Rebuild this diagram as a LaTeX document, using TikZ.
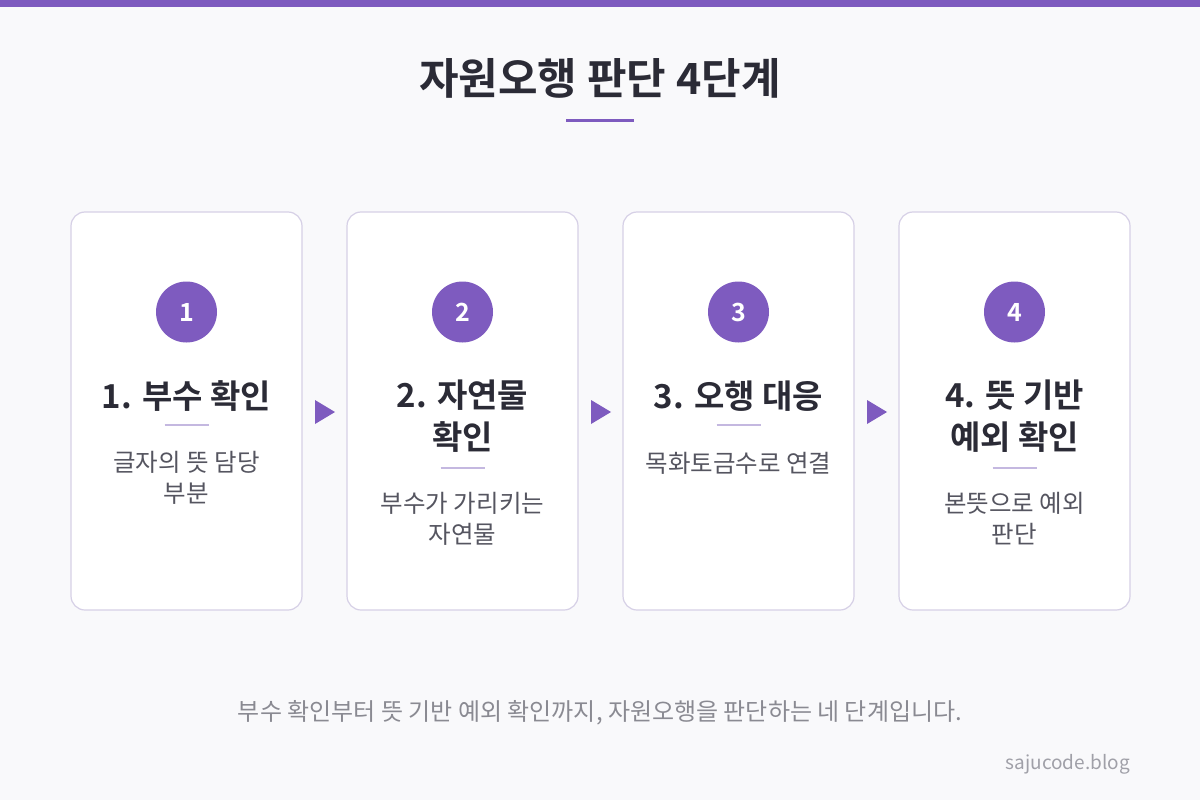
\documentclass[tikz,border=0pt]{standalone}
\usepackage{fontspec}
\setmainfont{Noto Sans CJK KR}[BoldFont={Noto Sans CJK KR Bold}]
\definecolor{bg}{HTML}{F9F9FB}
\definecolor{purp}{HTML}{7E5BBF}
\definecolor{cardline}{HTML}{D6D0E6}
\definecolor{divline}{HTML}{C4B8E0}
\definecolor{titletxt}{HTML}{2B2B36}
\definecolor{desctxt}{HTML}{555560}
\definecolor{foottxt}{HTML}{8A8A92}
\definecolor{marktxt}{HTML}{A0A0A8}
\tikzset{
  card/.style={draw=cardline,line width=1.2pt,fill=white,rounded corners=14pt},
  numcirc/.style={circle,fill=purp,minimum size=61pt,inner sep=0pt,text=white,font=\fontsize{25}{28}\selectfont\bfseries},
  ctitle/.style={align=center,text=titletxt,font=\fontsize{33}{42}\selectfont\bfseries,inner sep=0pt},
  cdesc/.style={align=center,text=desctxt,font=\fontsize{24.5}{31}\selectfont,inner sep=0pt},
  divider/.style={draw=divline,line width=1.5pt},
  arrowtri/.style={fill=purp,draw=none},
}
\begin{document}
\begin{tikzpicture}[x=1pt,y=-1pt]
\useasboundingbox (0,0) rectangle (1200,800);
\fill[bg] (0,0) rectangle (1200,800);
\fill[purp] (0,0) rectangle (1200,7.5);
\node[text=titletxt,font=\fontsize{43}{48}\selectfont\bfseries,inner sep=0pt] (title) at (600,78) {자원오행 판단 4단계};
\draw[purp,line width=3pt] (566,120) -- (634,120);
% cards
\foreach \i/\x in {1/71,2/347,3/623,4/899}{
  \draw[card] (\x,212) rectangle ++(231,398);
  \node[numcirc] (c\i) at (\x+115.5,312) {\i};
}
\node[ctitle] (t1) at (186.5,396) {1. 부수 확인};
\draw[divider] (164.5,425) -- (208.5,425);
\node[cdesc] (d1) at (186.5,478) {글자의 뜻 담당\\부분};

\node[ctitle] (t2) at (462.5,416) {2. 자연물\\확인};
\draw[divider] (440.5,468) -- (484.5,468);
\node[cdesc] (d2) at (462.5,519) {부수가 가리키는\\자연물};

\node[ctitle] (t3) at (738.5,396) {3. 오행 대응};
\draw[divider] (716.5,425) -- (760.5,425);
\node[cdesc] (d3) at (738.5,463) {목화토금수로 연결};

\node[ctitle] (t4) at (1014.5,416) {4. 뜻 기반\\예외 확인};
\draw[divider] (992.5,468) -- (1036.5,468);
\node[cdesc] (d4) at (1014.5,519) {본뜻으로 예외\\판단};

% arrows
\foreach \x in {315,591,867}{
  \fill[arrowtri] (\x,400) -- (\x+20,412) -- (\x,424) -- cycle;
}
\node[text=foottxt,font=\fontsize{24}{26}\selectfont,inner sep=0pt] (foot) at (600,713) {부수 확인부터 뜻 기반 예외 확인까지, 자원오행을 판단하는 네 단계입니다.};
\node[text=marktxt,font=\fontsize{19}{22}\selectfont,inner sep=0pt,anchor=east] (mark) at (1130,764) {sajucode.blog};
\end{tikzpicture}
\end{document}
